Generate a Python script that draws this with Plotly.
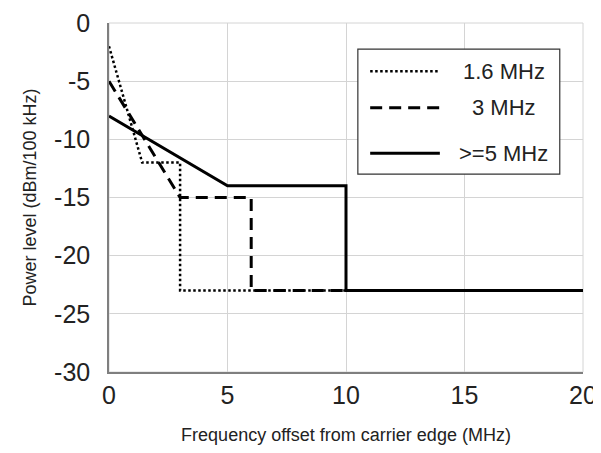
import plotly.graph_objects as go

# ---- data ----
series_names = ["1.6 MHz", "3 MHz", ">=5 MHz"]
x_16 = [0, 1.4, 3, 3, 10]
y_16 = [-2, -12, -12, -23, -23]
x_3 = [0, 3, 6, 6, 10]
y_3 = [-5, -15, -15, -23, -23]
x_5 = [0, 5, 10, 10, 20]
y_5 = [-8, -14, -14, -23, -23]

x_tickvals = [0, 5, 10, 15, 20]
x_ticktext = ["0", "5", "10", "15", "20"]
y_tickvals = [0, -5, -10, -15, -20, -25, -30]
y_ticktext = ["0", "-5", "-10", "-15", "-20", "-25", "-30"]

x_title = "Frequency offset from carrier edge (MHz)"
y_title = "Power level (dBm/100 kHz)"

# ---- styles ----
dash_styles = ["2.5px,2.5px", "12px,7px", "solid"]
line_widths = [2.5, 3, 3]
FONT = "Liberation Sans, Arial, sans-serif"

fig = go.Figure()
for name, xs, ys, dash, w in zip(series_names, [x_16, x_3, x_5], [y_16, y_3, y_5],
                                 dash_styles, line_widths):
    fig.add_trace(go.Scatter(x=xs, y=ys, mode="lines", name=name, showlegend=False,
                             line=dict(color="#000000", width=w, dash=dash)))

# ---- custom legend (box with long line samples) ----
box = dict(x0=0.525, x1=0.951, y0=0.567, y1=0.925)
fig.add_shape(type="rect", xref="paper", yref="paper", **box,
              line=dict(color="#333333", width=1.2), fillcolor="white", layer="above")
row_y = [0.862, 0.757, 0.627]
for name, dash, w, ry in zip(series_names, dash_styles, line_widths, row_y):
    fig.add_shape(type="line", xref="paper", yref="paper", x0=0.551, x1=0.698, y0=ry, y1=ry,
                  line=dict(color="#000000", width=w, dash=dash), layer="above")
    fig.add_annotation(xref="paper", yref="paper", x=0.833, y=ry, text=name, showarrow=False,
                       xanchor="center", yanchor="middle",
                       font=dict(family=FONT, size=22, color="#222222"))

# page has an 8px body margin, so the figure is sized to fit the 601x453 window
fig.update_layout(
    width=593, height=437,
    margin=dict(l=101, r=18, t=15, b=73),
    paper_bgcolor="white", plot_bgcolor="white",
    font=dict(family=FONT, color="#222222"),
)
fig.update_xaxes(
    range=[0, 20], tickvals=x_tickvals, ticktext=x_ticktext, automargin=False,
    showgrid=True, gridcolor="#d4d4d4", gridwidth=1, zeroline=False,
    showline=True, linecolor="#7f7f7f", linewidth=1.5,
    ticks="outside", ticklen=0, ticklabelstandoff=0, ticklabeloverflow="allow",
    tickfont=dict(size=25, family=FONT, color="#222222"),
    title=dict(text=x_title, font=dict(size=18, family=FONT, color="#222222"), standoff=22),
)
fig.update_yaxes(
    range=[-30, 0], tickvals=y_tickvals, ticktext=y_ticktext, automargin=False,
    showgrid=True, gridcolor="#d4d4d4", gridwidth=1, zeroline=False,
    showline=True, linecolor="#7f7f7f", linewidth=1.5,
    ticks="outside", ticklen=0, ticklabelstandoff=12, ticklabeloverflow="allow",
    tickfont=dict(size=25, family=FONT, color="#222222"),
    title=dict(text=y_title, font=dict(size=18, family=FONT, color="#222222"), standoff=13),
)
# light frame on top/right like the reference
fig.add_shape(type="rect", xref="paper", yref="paper", x0=0, x1=1, y0=0, y1=1,
              line=dict(color="#d4d4d4", width=1), layer="below")

fig.write_html("out.html")
